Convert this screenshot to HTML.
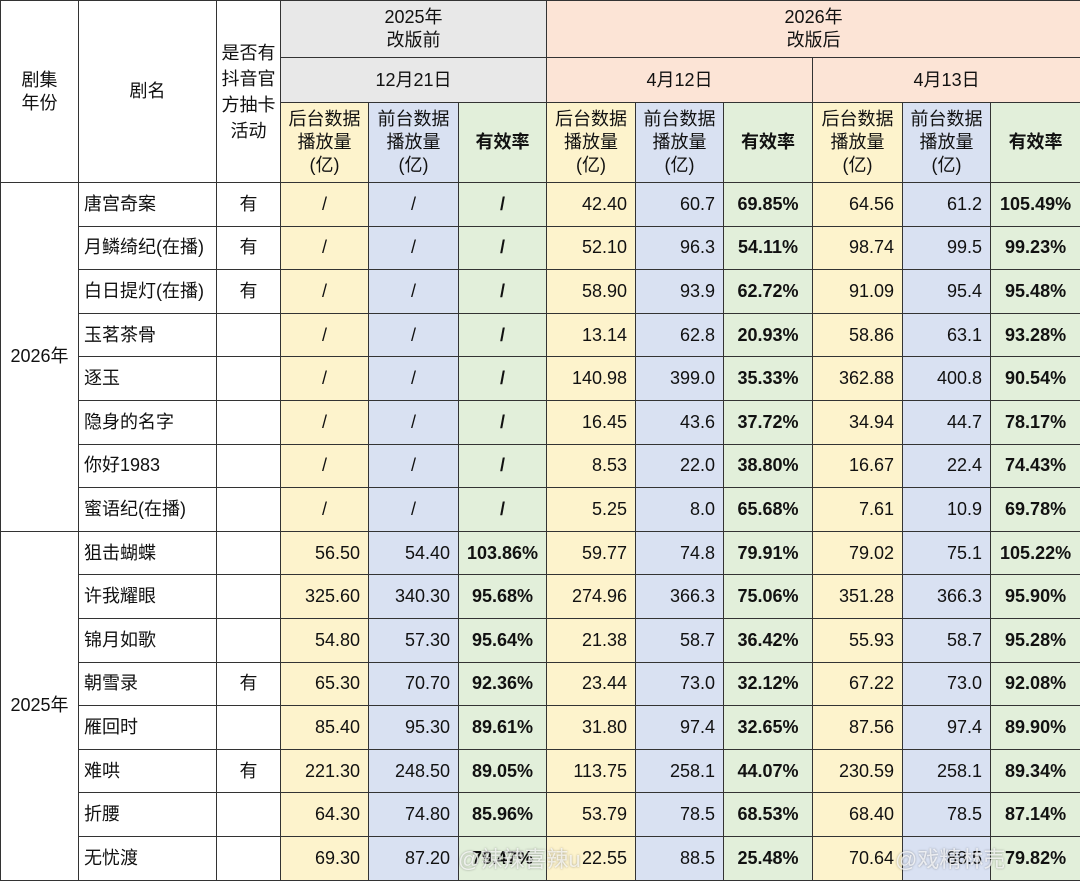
<!DOCTYPE html>
<html><head><meta charset="utf-8">
<style>
html,body{margin:0;padding:0;background:#fff;}
body{width:1080px;height:880px;overflow:hidden;position:relative;font-family:"Liberation Sans","Noto Sans CJK SC",sans-serif;color:#111;}
table{border-collapse:collapse;table-layout:fixed;position:absolute;left:0;top:0;width:1080px;}
td{border:1.5px solid #333;padding:0;font-size:18px;text-align:center;vertical-align:middle;line-height:23px;overflow:hidden;white-space:nowrap;}
tr.d td{height:42.6px;}
.y{background:#fdf3cc;} .b{background:#d9e1f2;} .g{background:#e2efda;}
.gr{background:#e8e8e8;} .pk{background:#fce4d6;}
.n{text-align:right;padding-right:8px;}
.p{font-weight:bold;}
.nm{text-align:left;padding-left:5px;}
.wm{position:absolute;font-size:22px;color:rgba(255,255,255,0.75);text-shadow:0 0 2px rgba(0,0,0,0.35);font-family:"Liberation Sans","Noto Sans CJK SC",sans-serif;}
</style></head><body>
<table>
<colgroup><col style="width:78px"><col style="width:138px"><col style="width:64px"><col style="width:88px"><col style="width:90px"><col style="width:88px"><col style="width:89px"><col style="width:88px"><col style="width:89px"><col style="width:90px"><col style="width:88px"><col style="width:90px"></colgroup>
<tr style="height:57px">
<td rowspan="3">剧集<br>年份</td>
<td rowspan="3">剧名</td>
<td rowspan="3" style="white-space:normal;line-height:26px">是否有<br>抖音官<br>方抽卡<br>活动</td>
<td colspan="3" class="gr">2025年<br>改版前</td>
<td colspan="6" class="pk">2026年<br>改版后</td>
</tr>
<tr style="height:45px">
<td colspan="3" class="gr">12月21日</td>
<td colspan="3" class="pk">4月12日</td>
<td colspan="3" class="pk">4月13日</td>
</tr>
<tr style="height:80px">
<td class="y">后台数据<br>播放量<br>(亿)</td>
<td class="b">前台数据<br>播放量<br>(亿)</td>
<td class="g p">有效率</td>
<td class="y">后台数据<br>播放量<br>(亿)</td>
<td class="b">前台数据<br>播放量<br>(亿)</td>
<td class="g p">有效率</td>
<td class="y">后台数据<br>播放量<br>(亿)</td>
<td class="b">前台数据<br>播放量<br>(亿)</td>
<td class="g p">有效率</td>
</tr>
<tr class="d"><td rowspan="8">2026年</td><td class="nm">唐宫奇案</td><td>有</td><td class="y">/</td><td class="b">/</td><td class="g p">/</td><td class="y n">42.40</td><td class="b n">60.7</td><td class="g p">69.85%</td><td class="y n">64.56</td><td class="b n">61.2</td><td class="g p">105.49%</td></tr>
<tr class="d"><td class="nm">月鳞绮纪(在播)</td><td>有</td><td class="y">/</td><td class="b">/</td><td class="g p">/</td><td class="y n">52.10</td><td class="b n">96.3</td><td class="g p">54.11%</td><td class="y n">98.74</td><td class="b n">99.5</td><td class="g p">99.23%</td></tr>
<tr class="d"><td class="nm">白日提灯(在播)</td><td>有</td><td class="y">/</td><td class="b">/</td><td class="g p">/</td><td class="y n">58.90</td><td class="b n">93.9</td><td class="g p">62.72%</td><td class="y n">91.09</td><td class="b n">95.4</td><td class="g p">95.48%</td></tr>
<tr class="d"><td class="nm">玉茗茶骨</td><td></td><td class="y">/</td><td class="b">/</td><td class="g p">/</td><td class="y n">13.14</td><td class="b n">62.8</td><td class="g p">20.93%</td><td class="y n">58.86</td><td class="b n">63.1</td><td class="g p">93.28%</td></tr>
<tr class="d"><td class="nm">逐玉</td><td></td><td class="y">/</td><td class="b">/</td><td class="g p">/</td><td class="y n">140.98</td><td class="b n">399.0</td><td class="g p">35.33%</td><td class="y n">362.88</td><td class="b n">400.8</td><td class="g p">90.54%</td></tr>
<tr class="d"><td class="nm">隐身的名字</td><td></td><td class="y">/</td><td class="b">/</td><td class="g p">/</td><td class="y n">16.45</td><td class="b n">43.6</td><td class="g p">37.72%</td><td class="y n">34.94</td><td class="b n">44.7</td><td class="g p">78.17%</td></tr>
<tr class="d"><td class="nm">你好1983</td><td></td><td class="y">/</td><td class="b">/</td><td class="g p">/</td><td class="y n">8.53</td><td class="b n">22.0</td><td class="g p">38.80%</td><td class="y n">16.67</td><td class="b n">22.4</td><td class="g p">74.43%</td></tr>
<tr class="d"><td class="nm">蜜语纪(在播)</td><td></td><td class="y">/</td><td class="b">/</td><td class="g p">/</td><td class="y n">5.25</td><td class="b n">8.0</td><td class="g p">65.68%</td><td class="y n">7.61</td><td class="b n">10.9</td><td class="g p">69.78%</td></tr>
<tr class="d"><td rowspan="8">2025年</td><td class="nm">狙击蝴蝶</td><td></td><td class="y n">56.50</td><td class="b n">54.40</td><td class="g p">103.86%</td><td class="y n">59.77</td><td class="b n">74.8</td><td class="g p">79.91%</td><td class="y n">79.02</td><td class="b n">75.1</td><td class="g p">105.22%</td></tr>
<tr class="d"><td class="nm">许我耀眼</td><td></td><td class="y n">325.60</td><td class="b n">340.30</td><td class="g p">95.68%</td><td class="y n">274.96</td><td class="b n">366.3</td><td class="g p">75.06%</td><td class="y n">351.28</td><td class="b n">366.3</td><td class="g p">95.90%</td></tr>
<tr class="d"><td class="nm">锦月如歌</td><td></td><td class="y n">54.80</td><td class="b n">57.30</td><td class="g p">95.64%</td><td class="y n">21.38</td><td class="b n">58.7</td><td class="g p">36.42%</td><td class="y n">55.93</td><td class="b n">58.7</td><td class="g p">95.28%</td></tr>
<tr class="d"><td class="nm">朝雪录</td><td>有</td><td class="y n">65.30</td><td class="b n">70.70</td><td class="g p">92.36%</td><td class="y n">23.44</td><td class="b n">73.0</td><td class="g p">32.12%</td><td class="y n">67.22</td><td class="b n">73.0</td><td class="g p">92.08%</td></tr>
<tr class="d"><td class="nm">雁回时</td><td></td><td class="y n">85.40</td><td class="b n">95.30</td><td class="g p">89.61%</td><td class="y n">31.80</td><td class="b n">97.4</td><td class="g p">32.65%</td><td class="y n">87.56</td><td class="b n">97.4</td><td class="g p">89.90%</td></tr>
<tr class="d"><td class="nm">难哄</td><td>有</td><td class="y n">221.30</td><td class="b n">248.50</td><td class="g p">89.05%</td><td class="y n">113.75</td><td class="b n">258.1</td><td class="g p">44.07%</td><td class="y n">230.59</td><td class="b n">258.1</td><td class="g p">89.34%</td></tr>
<tr class="d"><td class="nm">折腰</td><td></td><td class="y n">64.30</td><td class="b n">74.80</td><td class="g p">85.96%</td><td class="y n">53.79</td><td class="b n">78.5</td><td class="g p">68.53%</td><td class="y n">68.40</td><td class="b n">78.5</td><td class="g p">87.14%</td></tr>
<tr class="d"><td class="nm">无忧渡</td><td></td><td class="y n">69.30</td><td class="b n">87.20</td><td class="g p">79.47%</td><td class="y n">22.55</td><td class="b n">88.5</td><td class="g p">25.48%</td><td class="y n">70.64</td><td class="b n">88.5</td><td class="g p">79.82%</td></tr>
</table>
<div class="wm" style="left:458px;top:842px">@辣辣喜辣u</div>
<div class="wm" style="left:895px;top:842px">@戏精林売</div>
</body></html>
